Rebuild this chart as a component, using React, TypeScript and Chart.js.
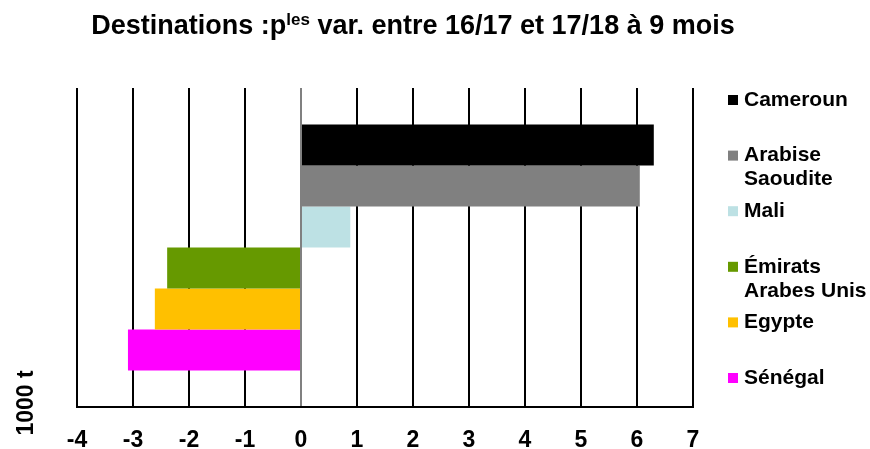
import { useEffect, useRef } from 'react';
import { Chart, registerables } from 'chart.js';

Chart.register(...registerables);

const FONT = '"Liberation Sans", Arial, Helvetica, sans-serif';

const categories = ['Cameroun', 'Arabise Saoudite', 'Mali', 'Émirats Arabes Unis', 'Egypte', 'Sénégal'];
const values = [6.3, 6.05, 0.88, -2.39, -2.61, -3.09];
const barColors = ['#000000', '#808080', '#BDE1E4', '#669900', '#FFC000', '#FF00FF'];

const axisMin = -4;
const axisMax = 7;
const axisStep = 1;

const titleMain = 'Destinations :p';
const titleSup = 'les';
const titleRest = ' var. entre 16/17 et 17/18 à 9 mois';
const unitLabel = '1000 t';

function wrapText(ctx: CanvasRenderingContext2D, text: string, maxWidth: number): string[] {
  const words = text.split(' ');
  const lines: string[] = [];
  let cur = '';
  for (const w of words) {
    const test = cur ? cur + ' ' + w : w;
    if (cur && ctx.measureText(test).width > maxWidth) {
      lines.push(cur);
      cur = w;
    } else {
      cur = test;
    }
  }
  if (cur) lines.push(cur);
  return lines;
}

const decorPlugin = {
  id: 'decor',
  afterDraw(chart: any) {
    const ctx: CanvasRenderingContext2D = chart.ctx;
    ctx.save();
    ctx.fillStyle = '#000';
    // Title with superscript
    const big = `bold 27px ${FONT}`;
    const small = `bold 17px ${FONT}`;
    ctx.font = big;
    const w1 = ctx.measureText(titleMain).width;
    const w3 = ctx.measureText(titleRest).width;
    ctx.font = small;
    const w2 = ctx.measureText(titleSup).width;
    let x = 413 - (w1 + w2 + w3) / 2;
    const y = 34;
    ctx.textAlign = 'left';
    ctx.textBaseline = 'alphabetic';
    ctx.font = big;
    ctx.fillText(titleMain, x, y);
    x += w1;
    ctx.font = small;
    ctx.fillText(titleSup, x, y - 9);
    x += w2;
    ctx.font = big;
    ctx.fillText(titleRest, x, y);

    // Unit label
    ctx.save();
    ctx.translate(27, 403);
    ctx.rotate(-Math.PI / 2);
    ctx.font = `bold 23px ${FONT}`;
    ctx.textAlign = 'center';
    ctx.textBaseline = 'middle';
    ctx.fillText(unitLabel, 0, 0);
    ctx.restore();

    // Legend
    const area = chart.chartArea;
    const sqX = area.right + 35;
    const txtX = sqX + 16;
    ctx.font = `bold 21px ${FONT}`;
    ctx.textBaseline = 'middle';
    ctx.textAlign = 'left';
    chart.data.datasets.forEach((ds: any, i: number) => {
      const yy = 100 + i * 55.6;
      ctx.fillStyle = ds.backgroundColor;
      ctx.fillRect(sqX, yy - 5, 10, 10);
      ctx.fillStyle = '#000';
      const lines = wrapText(ctx, ds.label, 127);
      lines.forEach((ln, k) => ctx.fillText(ln, txtX, yy + k * 24));
    });
    ctx.restore();
  },
};

export default function App() {
  const ref = useRef<HTMLCanvasElement>(null);
  useEffect(() => {
    if (!ref.current) return;
    const chart = new Chart(ref.current, {
      type: 'bar',
      data: {
        labels: [''],
        datasets: categories.map((c, i) => ({
          label: c,
          data: [values[i]],
          backgroundColor: barColors[i],
          borderWidth: 0,
          categoryPercentage: 0.771,
          barPercentage: 1,
        })),
      },
      options: {
        indexAxis: 'y',
        responsive: false,
        animation: false,
        layout: { padding: { left: 77, right: 177, top: 88, bottom: 0 } },
        plugins: {
          legend: { display: false },
          title: { display: false },
          tooltip: { enabled: false },
        },
        scales: {
          x: {
            min: axisMin,
            max: axisMax,
            afterFit: (scale: any) => {
              scale.height = 42;
            },
            ticks: {
              stepSize: axisStep,
              color: '#000',
              font: { family: FONT, size: 23, weight: 'bold', lineHeight: 0.7 },
              padding: 26,
            },
            grid: {
              drawTicks: false,
              color: (c: any) => (c.tick && c.tick.value === 0 ? '#808080' : '#000'),
              lineWidth: 2,
            },
            border: { display: true, color: '#000', width: 2 },
          },
          y: {
            display: false,
          },
        },
      },
      plugins: [decorPlugin],
    } as any);
    return () => chart.destroy();
  }, []);
  return (
    <div style={{ position: 'absolute', left: 0, top: 0, width: 870, height: 449, background: '#fff' }}>
      <canvas ref={ref} width={870} height={449} />
    </div>
  );
}
